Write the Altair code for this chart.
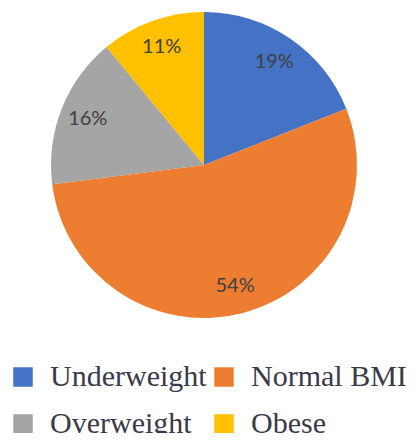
import altair as alt
import pandas as pd

categories = ["Underweight", "Normal BMI", "Overweight", "Obese"]
values = [19, 54, 16, 11]
labels = ["19%", "54%", "16%", "11%"]
colors = ["#4472C4", "#ED7D31", "#A5A5A5", "#FFC000"]

df = pd.DataFrame({"cat": categories, "val": values, "label": labels, "order": list(range(len(categories)))})

cx, cy = 196, 157

base = alt.Chart(df).encode(
    theta=alt.Theta("val:Q", stack=True),
    order=alt.Order("order:Q"),
)

arc = base.mark_arc(outerRadius=153, strokeWidth=0).encode(
    x=alt.value(cx), y=alt.value(cy),
    color=alt.Color("cat:N", scale=alt.Scale(domain=categories, range=colors),
                    legend=alt.Legend(
                        title=None, orient="none", legendX=0, legendY=354,
                        direction="horizontal",
                        columns=2, symbolType="square", symbolSize=380,
                        symbolStrokeWidth=0, labelFont="Liberation Serif",
                        labelFontSize=30, labelColor="#3a3a48", labelOffset=12,
                        columnPadding=2, rowPadding=17, labelLimit=0,
                    )),
)

text = base.mark_text(radius=125, font="Lato", fontSize=20, color="#404040").encode(
    x=alt.value(cx), y=alt.value(cy),
    text="label:N",
)

chart = (arc + text).properties(
    width=404, height=425, autosize=alt.AutoSizeParams(type="none"), padding=0
).configure_view(stroke=None)

chart.save("out.html", embed_options={"renderer": "svg", "actions": False})
